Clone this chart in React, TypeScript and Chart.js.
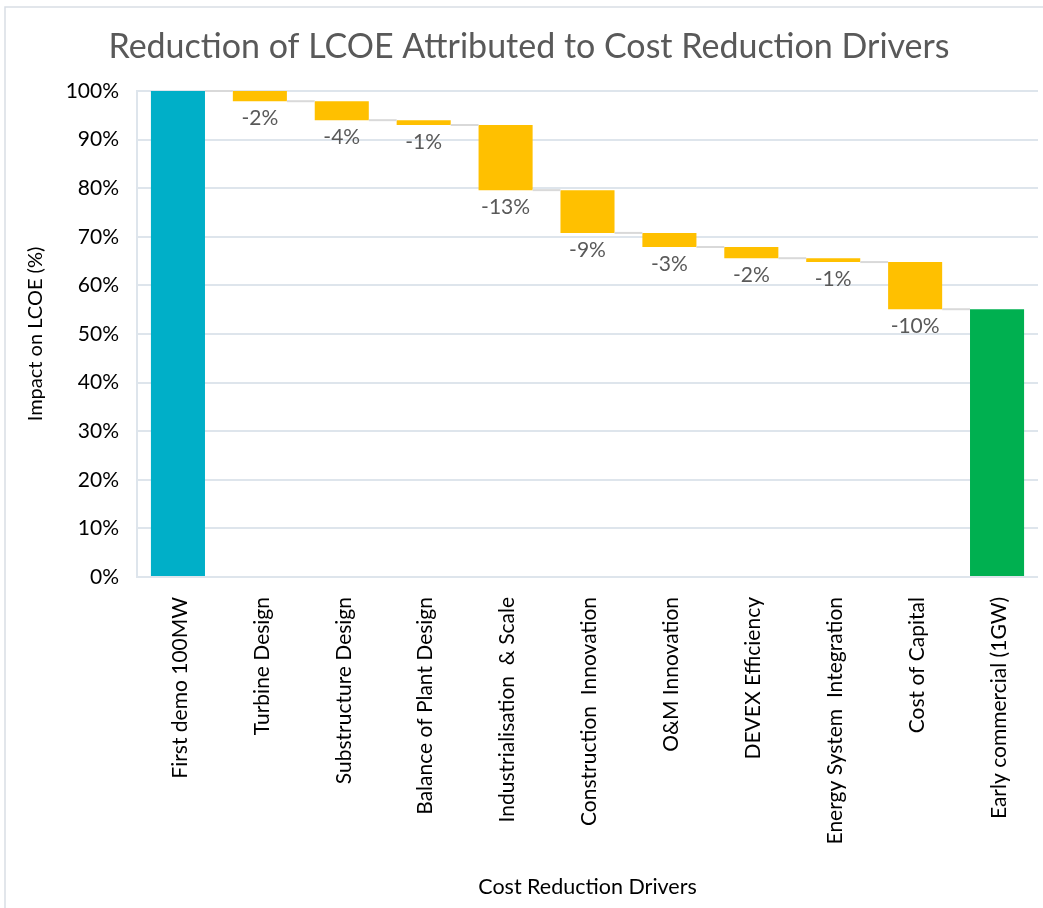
import React, { useEffect, useRef } from "react";
import { Chart, registerables } from "chart.js";

Chart.register(...registerables);

const categories = [
  "First demo 100MW",
  "Turbine Design",
  "Substructure Design",
  "Balance of Plant Design",
  "Industrialisation  & Scale",
  "Construction  Innovation",
  "O&M Innovation",
  "DEVEX Efficiency",
  "Energy System  Integration",
  "Cost of Capital",
  "Early commercial (1GW)",
];

// Running LCOE level (%) after each step
const levels = [100, 97.9, 94.0, 93.0, 79.6, 70.8, 67.9, 65.6, 64.8, 55.1];
const finalValue = 55.1;
const changeLabels = ["-2%", "-4%", "-1%", "-13%", "-9%", "-3%", "-2%", "-1%", "-10%"];
const yTicks = [0, 10, 20, 30, 40, 50, 60, 70, 80, 90, 100];

const FONT = "Lato";
const C_START = "#00AFC8";
const C_STEP = "#FFC000";
const C_END = "#00B050";

export default function App() {
  const ref = useRef<HTMLCanvasElement | null>(null);

  useEffect(() => {
    document.body.style.margin = "0";
    const canvas = ref.current;
    if (!canvas) return;

    const bars: [number, number][] = [[0, levels[0]]];
    for (let i = 1; i < levels.length; i++) bars.push([levels[i], levels[i - 1]]);
    bars.push([0, finalValue]);
    const colors = bars.map((_, i) =>
      i === 0 ? C_START : i === bars.length - 1 ? C_END : C_STEP
    );

    const framePlugin = {
      id: "frame",
      beforeDraw(chart: any) {
        const ctx = chart.ctx;
        ctx.save();
        ctx.fillStyle = "#ffffff";
        ctx.fillRect(0, 0, chart.width, chart.height);
        ctx.strokeStyle = "#D9DEE5";
        ctx.lineWidth = 1.5;
        ctx.beginPath();
        ctx.moveTo(5, chart.height);
        ctx.lineTo(5, 7);
        ctx.lineTo(chart.width, 7);
        ctx.stroke();
        ctx.restore();
      },
    };

    const waterfallPlugin = {
      id: "waterfall",
      afterDatasetsDraw(chart: any) {
        const ctx = chart.ctx;
        const meta = chart.getDatasetMeta(0);
        const y = chart.scales.y;
        const xs = chart.scales.x;
        ctx.save();
        // connectors
        ctx.strokeStyle = "#D9D9D9";
        ctx.lineWidth = 2;
        for (let i = 0; i < bars.length - 1; i++) {
          const a = meta.data[i];
          const b = meta.data[i + 1];
          const level = i === 0 ? bars[0][1] : bars[i][0];
          const py = y.getPixelForValue(level);
          ctx.beginPath();
          ctx.moveTo(a.x + a.width / 2, py);
          ctx.lineTo(b.x - b.width / 2, py);
          ctx.stroke();
        }
        // data labels
        ctx.fillStyle = "#595959";
        ctx.font = `21px ${FONT}`;
        ctx.textAlign = "center";
        ctx.textBaseline = "middle";
        for (let i = 1; i < bars.length - 1; i++) {
          const el = meta.data[i];
          const py = y.getPixelForValue(bars[i][0]);
          ctx.fillText(changeLabels[i - 1], el.x, py + 17);
        }
        // rotated category labels
        ctx.fillStyle = "#000000";
        ctx.textAlign = "right";
        for (let i = 0; i < categories.length; i++) {
          const px = xs.getPixelForTick(i);
          ctx.save();
          ctx.translate(px + 2, xs.top + 20);
          ctx.rotate(-Math.PI / 2);
          ctx.fillText(categories[i], 0, 0);
          ctx.restore();
        }
        ctx.restore();
      },
    };

    const chart = new Chart(canvas, {
      type: "bar",
      data: {
        labels: categories,
        datasets: [
          {
            data: bars as any,
            backgroundColor: colors,
            borderWidth: 0,
            borderSkipped: false,
            barPercentage: 0.66,
            categoryPercentage: 1,
          },
        ],
      },
      options: {
        animation: false,
        responsive: false,
        maintainAspectRatio: false,
        layout: { padding: { left: 20, right: 5, top: 0, bottom: 0 } },
        plugins: {
          legend: { display: false },
          tooltip: { enabled: false },
          title: {
            display: true,
            text: "Reduction of LCOE Attributed to Cost Reduction Drivers",
            color: "#595959",
            font: { family: FONT, size: 34, weight: "normal", lineHeight: 1.2 },
            padding: { top: 26.6, bottom: 23.6 },
          },
        },
        scales: {
          x: {
            grid: { display: false },
            border: { display: false },
            ticks: { display: false },
            title: {
              display: true,
              text: "Cost Reduction Drivers",
              color: "#000000",
              font: { family: FONT, size: 21.5, lineHeight: 1.2 },
              padding: { top: 0, bottom: 8 },
            },
            afterFit(scale: any) {
              scale.height = 331;
            },
          },
          y: {
            min: 0,
            max: 100,
            afterBuildTicks(scale: any) {
              scale.ticks = yTicks.map((v) => ({ value: v }));
            },
            grid: { color: "#DEE5EC", lineWidth: 2, drawTicks: false },
            border: { display: true, color: "#DEE5EC", width: 2 },
            ticks: {
              color: "#000000",
              padding: 18,
              font: { family: FONT, size: 21 },
              callback: (v: any) => `${v}%`,
            },
            title: {
              display: true,
              text: "Impact on LCOE (%)",
              color: "#000000",
              font: { family: FONT, size: 20, lineHeight: 1.2 },
              padding: { top: 4, bottom: 0 },
            },
            afterFit(scale: any) {
              scale.width = 117;
            },
          },
        },
      },
      plugins: [framePlugin, waterfallPlugin],
    });

    return () => chart.destroy();
  }, []);

  return <canvas ref={ref} width={1043} height={908} style={{ display: "block" }} />;
}
